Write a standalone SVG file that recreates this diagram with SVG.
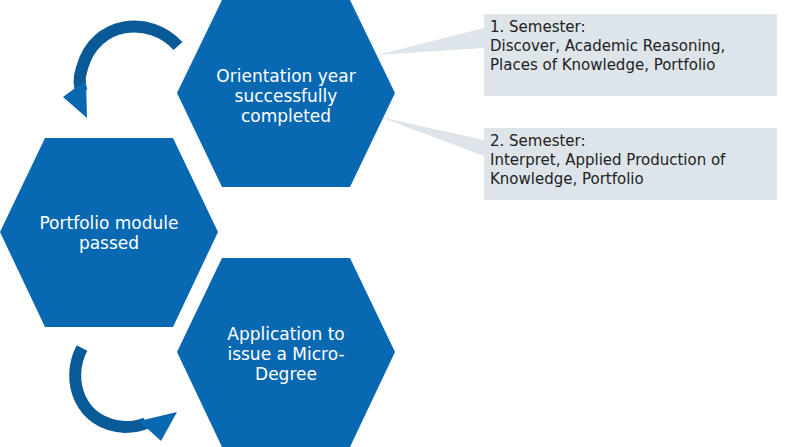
<svg xmlns="http://www.w3.org/2000/svg" width="800" height="447" viewBox="0 0 800 447">
<style>
.hex{fill:#0868b1}
.ht{fill:#fff;font-family:"DejaVu Sans",sans-serif;font-size:17px;text-anchor:middle}
.box{fill:#dde5eb}
.bt{fill:#222;font-family:"DejaVu Sans",sans-serif;font-size:15px}
.arr{fill:none;stroke-width:12}
</style>
<rect width="800" height="447" fill="#fff"/>
<g id="callouts">
<polygon class="box" points="377,55 484,28 484,48"/>
<rect class="box" x="484" y="14" width="293" height="82"/>
<polygon class="box" points="380,117 484,140 484,156"/>
<rect class="box" x="484" y="128" width="293" height="72"/>
<text class="bt" x="490" y="32">1. Semester:</text>
<text class="bt" x="490" y="51">Discover, Academic Reasoning,</text>
<text class="bt" x="490" y="70">Places of Knowledge, Portfolio</text>
<text class="bt" x="490" y="146">2. Semester:</text>
<text class="bt" x="490" y="165">Interpret, Applied Production of</text>
<text class="bt" x="490" y="184">Knowledge, Portfolio</text>
</g>
<g id="connectors">
<path class="arr" stroke="#0a5a98" d="M178,46 C150,15 95,20 82,68 C78,80 80,88 82,92"/>
<polygon fill="#0868b1" points="63,97 87,118 86,80"/>
<path class="arr" stroke="#0a5a98" d="M82,348 C65,380 80,425 125,427 C135,427 142,425 146,423"/>
<polygon fill="#0868b1" points="139,421 161,441 177,412"/>
</g>
<g id="n1"><polygon class="hex" points="222,0 350,0 395,93 350,187 222,187 177,93"/>
<text class="ht" x="286" y="82">Orientation year</text><text class="ht" x="286" y="102">successfully</text><text class="ht" x="286" y="122">completed</text></g>
<g id="n2"><polygon class="hex" points="45,138 173,138 218,232 173,327 45,327 0,232"/>
<text class="ht" x="109" y="229">Portfolio module</text><text class="ht" x="109" y="249">passed</text></g>
<g id="n3"><polygon class="hex" points="222,258 350,258 395,352 350,447 222,447 177,352"/>
<text class="ht" x="286" y="340">Application to</text><text class="ht" x="286" y="360">issue a Micro-</text><text class="ht" x="286" y="380">Degree</text></g>
</svg>
